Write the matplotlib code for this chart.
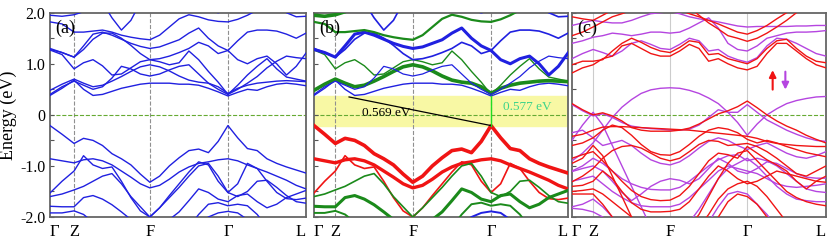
import numpy as np
import matplotlib
matplotlib.use("Agg")
import matplotlib.pyplot as plt

plt.rcParams['font.family'] = ['Liberation Serif', 'DejaVu Serif']

# k-path
K_LABELS = ["Γ", "Z", "F", "Γ", "L"]
KPTS_A = [0.0, 0.094, 0.39, 0.695, 1.0]
KPTS_B = [0.0, 0.084, 0.389, 0.697, 1.0]
KPTS_C = [0.0, 0.083, 0.386, 0.69, 1.0]
SEG_STEPS = [2, 8, 8, 8]

Y_TICKS = [2.0, 1.0, 0.0, -1.0, -2.0]
Y_TICK_LABELS = ["2.0", "1.0", "0", "-1.0", "-2.0"]

# bands (eV) for the non-SOC / projected structure, sampled along the path
a1 = [0.38, 0.52, 0.68, 0.50, 0.38, 0.40, 0.46, 0.52, 0.56, 0.60, 0.62, 0.62, 0.62, 0.60, 0.60, 0.58, 0.52, 0.45, 0.37, 0.44, 0.50, 0.48, 0.55, 0.60, 0.62, 0.60, 0.57]
a2 = [0.48, 0.60, 0.70, 0.62, 0.55, 0.58, 0.66, 0.75, 0.85, 0.94, 0.98, 0.94, 0.86, 0.76, 0.68, 0.64, 0.62, 0.55, 0.42, 0.52, 0.58, 0.62, 0.64, 0.66, 0.67, 0.66, 0.65]
a3 = [1.27, 1.18, 0.90, 1.02, 1.08, 0.96, 0.78, 0.80, 0.92, 1.04, 1.08, 1.04, 0.98, 1.02, 1.25, 1.08, 0.85, 0.64, 0.40, 0.58, 0.78, 0.95, 1.10, 0.90, 0.74, 0.70, 0.66]
a4 = [1.28, 1.22, 1.13, 1.35, 1.58, 1.62, 1.56, 1.48, 1.40, 1.34, 1.30, 1.33, 1.40, 1.47, 1.60, 1.70, 1.50, 1.35, 1.26, 1.08, 1.00, 1.10, 1.15, 1.00, 0.78, 0.95, 1.21]
a5 = [1.30, 1.22, 1.13, 1.28, 1.48, 1.60, 1.60, 1.50, 1.36, 1.20, 1.08, 1.10, 1.15, 1.22, 1.30, 1.42, 1.35, 1.20, 1.26, 1.45, 1.62, 1.66, 1.66, 1.64, 1.58, 1.50, 1.60]
a6 = [1.82, 1.78, 1.62, 1.62, 1.64, 1.66, 1.62, 1.56, 1.52, 1.49, 1.47, 1.56, 1.72, 1.88, 1.96, 1.92, 1.86, 1.83, 1.82, 1.87, 1.95, 2.05, 2.15, 2.20, 2.20, 2.20, 2.20]
a7 = [2.30, 2.30, 2.30, 2.30, 2.30, 2.20, 1.90, 1.66, 1.85, 2.20, 2.30, 2.30, 2.30, 2.30, 2.30, 2.20, 2.05, 2.00, 2.05, 2.20, 2.30, 2.30, 2.30, 2.20, 2.00, 1.92, 1.93]
a8 = [1.95, 1.93, 1.96, 2.02, 2.10, 2.20, 2.30, 2.30, 2.30, 2.30, 2.30, 2.30, 2.30, 2.30, 2.30, 2.30, 2.30, 2.30, 2.30, 2.30, 2.30, 2.30, 2.30, 2.30, 2.30, 2.30, 2.30]
a9 = [0.40, 0.55, 0.66, 0.58, 0.50, 0.55, 0.72, 0.95, 0.90, 0.80, 0.76, 0.80, 0.88, 0.95, 0.98, 0.80, 0.62, 0.50, 0.40, 0.50, 0.62, 0.75, 0.92, 1.05, 1.15, 1.12, 1.10]
v1 = [-0.21, -0.38, -0.56, -0.46, -0.50, -0.60, -0.76, -0.86, -0.98, -1.16, -1.32, -1.20, -1.00, -0.84, -0.70, -0.67, -0.74, -0.52, -0.21, -0.45, -0.66, -0.70, -0.86, -0.95, -1.02, -1.08, -1.14]
v2 = [-0.86, -0.90, -0.94, -0.88, -0.86, -0.90, -0.98, -1.10, -1.22, -1.35, -1.43, -1.38, -1.26, -1.12, -1.02, -0.95, -0.92, -0.88, -0.86, -0.90, -0.98, -1.05, -1.12, -1.20, -1.28, -1.38, -1.45]
v3 = [-1.53, -1.30, -1.10, -0.80, -0.98, -1.05, -1.02, -1.30, -1.62, -1.88, -2.00, -1.82, -1.58, -1.35, -1.12, -0.92, -0.98, -1.30, -1.52, -1.35, -0.95, -1.05, -1.30, -1.52, -1.64, -1.66, -1.63]
v4 = [-1.60, -1.55, -1.47, -1.40, -1.30, -1.20, -1.15, -1.35, -1.60, -1.80, -2.00, -1.82, -1.62, -1.42, -1.20, -1.00, -0.95, -1.20, -1.52, -1.60, -1.50, -1.30, -1.28, -1.42, -1.58, -1.70, -1.73]
v5 = [-1.79, -1.80, -1.80, -1.62, -1.58, -1.65, -1.76, -1.90, -2.05, -2.20, -2.30, -2.20, -2.05, -1.90, -1.68, -1.45, -1.52, -1.65, -1.70, -1.58, -1.55, -1.70, -1.82, -1.75, -1.62, -1.55, -1.48]
v6 = [-1.92, -1.92, -1.88, -1.95, -2.10, -2.30, -2.30, -2.30, -2.30, -2.30, -2.30, -2.30, -2.30, -2.30, -2.20, -1.95, -1.75, -1.72, -1.78, -1.75, -1.78, -1.95, -2.20, -2.30, -2.30, -2.30, -2.30]
v7 = [-2.30, -2.30, -2.30, -2.30, -2.30, -2.30, -2.30, -2.30, -2.30, -2.30, -2.30, -2.30, -2.30, -2.30, -2.30, -2.15, -2.00, -1.92, -1.89, -1.92, -2.05, -2.25, -2.30, -2.30, -2.30, -2.30, -2.30]

# spin-polarised bands for panel (c)
ru1 = [0.22, 0.10, 0.00, 0.04, -0.02, -0.12, -0.25, -0.30, -0.32, -0.32, -0.32, -0.30, -0.26, -0.18, -0.08, 0.02, 0.08, 0.16, 0.27, 0.14, 0.00, -0.12, -0.22, -0.30, -0.40, -0.48, -0.55]
ru2 = [-0.42, -0.38, -0.30, -0.24, -0.23, -0.23, -0.24, -0.25, -0.26, -0.27, -0.28, -0.29, -0.30, -0.32, -0.34, -0.36, -0.38, -0.40, -0.42, -0.46, -0.52, -0.56, -0.58, -0.60, -0.61, -0.62, -0.62]
ru3 = [-0.60, -0.55, -0.45, -0.30, -0.20, -0.25, -0.40, -0.58, -0.72, -0.78, -0.79, -0.72, -0.58, -0.42, -0.30, -0.25, -0.28, -0.35, -0.48, -0.55, -0.50, -0.55, -0.62, -0.68, -0.74, -0.78, -0.82]
ru4 = [-0.85, -0.78, -0.72, -0.90, -1.10, -1.30, -1.48, -1.60, -1.66, -1.68, -1.67, -1.58, -1.40, -1.15, -0.90, -0.75, -0.78, -0.85, -0.62, -0.75, -0.88, -0.98, -1.10, -1.30, -1.45, -1.30, -1.20]
ru5 = [-1.40, -1.38, -1.30, -1.10, -1.25, -1.50, -1.72, -1.85, -1.90, -1.90, -1.89, -1.85, -1.70, -1.45, -1.20, -1.00, -1.10, -1.25, -1.35, -1.30, -1.20, -1.10, -1.15, -1.20, -1.25, -1.30, -1.32]
ru6 = [-1.55, -1.55, -1.55, -1.75, -2.00, -2.30, -2.30, -2.30, -2.30, -2.30, -2.30, -2.30, -2.30, -2.20, -1.95, -1.65, -1.45, -1.35, -1.30, -1.40, -1.60, -1.85, -2.10, -2.30, -2.30, -2.30, -2.30]
ru7 = [-0.95, -0.85, -0.60, -0.80, -1.20, -1.60, -2.00, -2.30, -2.30, -2.30, -2.30, -2.30, -2.30, -2.30, -2.30, -2.00, -1.70, -1.55, -1.60, -1.75, -2.00, -2.30, -2.30, -2.30, -2.30, -2.30, -2.30]
ru8 = [0.82, 0.92, 0.98, 1.10, 1.15, 1.35, 1.40, 1.30, 1.20, 1.15, 1.15, 1.25, 1.38, 1.30, 1.05, 1.10, 1.00, 0.92, 0.88, 0.95, 1.20, 1.40, 1.40, 1.25, 1.10, 0.98, 0.92]
ru9 = [0.98, 1.05, 1.05, 1.08, 1.25, 1.40, 1.50, 1.42, 1.32, 1.25, 1.22, 1.32, 1.45, 1.42, 1.18, 1.20, 1.10, 1.05, 1.00, 1.10, 1.30, 1.45, 1.48, 1.30, 1.15, 1.05, 1.02]
ru10 = [1.55, 1.62, 1.72, 1.82, 1.92, 1.98, 2.05, 2.10, 2.15, 2.15, 2.12, 2.05, 1.98, 1.92, 1.85, 1.78, 1.70, 1.62, 1.58, 1.65, 1.75, 1.88, 2.00, 2.10, 2.15, 2.20, 2.20]
ru11 = [1.92, 1.88, 1.85, 1.95, 2.05, 2.15, 2.20, 2.25, 2.25, 2.25, 2.25, 2.20, 2.10, 1.95, 1.80, 1.68, 1.55, 1.50, 1.44, 1.50, 1.60, 1.72, 1.85, 2.00, 2.15, 2.20, 2.20]
ru12 = [-1.31, -1.20, -1.05, -0.85, -0.70, -0.62, -0.60, -0.65, -0.75, -0.85, -0.90, -0.85, -0.72, -0.58, -0.50, -0.52, -0.60, -0.58, -0.56, -0.62, -0.72, -0.85, -1.00, -1.15, -1.20, -1.10, -1.00]
ru13 = [-1.50, -1.48, -1.45, -1.55, -1.70, -1.85, -2.00, -2.15, -2.25, -2.30, -2.30, -2.30, -2.20, -1.95, -1.60, -1.25, -0.95, -0.75, -0.70, -0.90, -1.10, -1.30, -1.50, -1.62, -1.70, -1.75, -1.78]

pd1 = [-0.90, -0.75, -0.55, -0.30, -0.05, 0.15, 0.30, 0.42, 0.49, 0.52, 0.53, 0.52, 0.48, 0.42, 0.33, 0.22, 0.05, -0.15, -0.40, -0.18, 0.00, 0.12, 0.22, 0.28, 0.32, 0.35, 0.36]
pd2 = [0.20, 0.08, -0.02, 0.02, -0.05, -0.15, -0.22, -0.25, -0.27, -0.28, -0.30, -0.30, -0.28, -0.20, -0.05, 0.10, 0.05, 0.05, 0.20, 0.05, -0.10, -0.20, -0.30, -0.38, -0.45, -0.50, -0.52]
pd3 = [-0.35, -0.30, -0.45, -0.60, -0.55, -0.50, -0.60, -0.75, -0.88, -0.95, -0.98, -0.92, -0.80, -0.65, -0.52, -0.45, -0.50, -0.60, -0.68, -0.60, -0.55, -0.65, -0.75, -0.82, -0.85, -0.80, -0.72]
pd4 = [-1.10, -1.00, -0.85, -0.95, -1.10, -1.25, -1.35, -1.42, -1.46, -1.47, -1.47, -1.42, -1.30, -1.15, -1.00, -0.88, -0.80, -0.78, -0.90, -0.85, -0.90, -1.00, -1.15, -1.30, -1.45, -1.50, -1.52]
pd5 = [-1.30, -1.25, -1.20, -1.35, -1.50, -1.62, -1.72, -1.78, -1.80, -1.80, -1.80, -1.75, -1.62, -1.45, -1.28, -1.10, -1.00, -1.05, -1.10, -1.15, -1.25, -1.35, -1.40, -1.42, -1.40, -1.38, -1.35]
pd6 = [-1.80, -1.75, -1.65, -1.80, -2.00, -2.20, -2.30, -2.30, -2.30, -2.30, -2.30, -2.30, -2.30, -2.30, -2.10, -1.80, -1.55, -1.50, -1.55, -1.75, -1.95, -2.20, -2.30, -2.30, -2.30, -2.30, -2.30]
pd7 = [-0.50, -0.20, 0.05, -0.20, -0.60, -1.00, -1.40, -1.80, -2.20, -2.30, -2.30, -2.30, -2.30, -2.30, -2.30, -2.30, -2.30, -2.30, -2.30, -2.30, -2.30, -2.30, -2.30, -2.30, -2.30, -2.30, -2.30]
pd8 = [1.10, 1.20, 1.28, 1.22, 1.15, 1.25, 1.40, 1.45, 1.38, 1.30, 1.28, 1.38, 1.50, 1.45, 1.25, 1.28, 1.15, 1.08, 1.03, 1.12, 1.35, 1.50, 1.48, 1.40, 1.30, 1.20, 1.15]
pd9 = [1.40, 1.45, 1.52, 1.55, 1.60, 1.58, 1.55, 1.58, 1.62, 1.62, 1.60, 1.62, 1.70, 1.80, 1.90, 1.70, 1.40, 1.28, 1.25, 1.35, 1.50, 1.55, 1.60, 1.62, 1.62, 1.63, 1.65]
pd10 = [1.75, 1.80, 1.85, 1.82, 1.80, 1.80, 1.85, 1.92, 1.98, 2.00, 2.02, 1.98, 1.92, 1.88, 1.85, 1.82, 1.78, 1.74, 1.72, 1.73, 1.73, 1.73, 1.73, 1.74, 1.74, 1.75, 1.75]
pd11 = [-1.11, -1.05, -1.00, -1.10, -1.30, -1.52, -1.68, -1.55, -1.40, -1.30, -1.25, -1.28, -1.35, -1.25, -1.05, -0.85, -0.95, -1.10, -1.15, -1.05, -0.92, -0.95, -1.05, -1.15, -1.22, -1.24, -1.24]
pd12 = [-1.83, -1.85, -1.90, -2.00, -2.10, -2.20, -2.25, -2.30, -2.30, -2.30, -2.30, -2.25, -2.10, -1.85, -1.55, -1.25, -1.05, -0.95, -0.85, -1.00, -1.20, -1.40, -1.55, -1.65, -1.68, -1.70, -1.70]

# gap annotation in (b)
VBM = -0.21
CBM = 0.37
INDIRECT_START = (0.138, 0.35)
GAP_INDIRECT = "0.569 eV"
GAP_DIRECT = "0.577 eV"

BLUE = '#2020e0'
GREEN = '#1b8a1b'
RED = '#f01414'
PURPLE = '#b545e0'
ZERO_C = '#66aa33'


def kgrid(kp):
    parts = [np.linspace(kp[i], kp[i + 1], SEG_STEPS[i] + 1)[:-1] for i in range(4)]
    parts.append([kp[-1]])
    return np.concatenate(parts)


def setup(ax, kp, vstyle, label, show_y):
    ax.set_xlim(0, 1)
    ax.set_ylim(-2.0, 2.0)
    for k in kp[1:-1]:
        ax.axvline(k, **vstyle)
    ax.axhline(0, color=ZERO_C, ls='--', lw=0.8, zorder=1)
    ax.set_xticks(kp)
    ax.set_xticklabels(K_LABELS, fontsize=12)
    tl = ax.get_xticklabels()
    tl[0].set_ha('left')
    tl[-1].set_ha('right')
    ax.tick_params(axis='x', length=0, pad=5)
    ax.set_yticks(Y_TICKS)
    ax.set_yticks([1.5, 0.5, -0.5, -1.5], minor=True)
    ax.tick_params(axis='y', which='both', direction='in', length=3, width=0.8, color='#555555')
    if show_y:
        ax.set_yticklabels(Y_TICK_LABELS, fontsize=11.5)
        ax.set_ylabel("Energy (eV)", fontsize=13, labelpad=2)
    else:
        ax.set_yticklabels([])
    for s in ax.spines.values():
        s.set_color('#666666')
        s.set_linewidth(1.3)
    ax.text(0.022, 0.965, label, transform=ax.transAxes, fontsize=13, va='top', ha='left', zorder=10)


fig = plt.figure(figsize=(8.3, 2.41), dpi=100)
H = 0.8477
B = 0.0996
ax_a = fig.add_axes([50 / 830, B, 256 / 830, H])
ax_b = fig.add_axes([314 / 830, B, 254 / 830, H])
ax_c = fig.add_axes([572 / 830, B, 254 / 830, H])

dashed = dict(color='#909090', ls='--', lw=0.8, zorder=1)

# (a)
ka = kgrid(KPTS_A)
setup(ax_a, KPTS_A, dashed, "(a)", True)
for band in [a1, a2, a3, a4, a5, a6, a7, a8, a9, v1, v2, v3, v4, v5, v6, v7]:
    ax_a.plot(ka, band, color=BLUE, lw=1.0, zorder=3)

# (b)
kb = kgrid(KPTS_B)
ax_b.axhspan(VBM, CBM, color='#f8f8a4', zorder=0)
setup(ax_b, KPTS_B, dashed, "(b)", False)
b_styles = [
    (a1, BLUE, 1.0), (a2, GREEN, 2.6), (a3, GREEN, 1.0), (a4, BLUE, 2.2),
    (a5, BLUE, 1.2), (a6, GREEN, 1.6), (a7, BLUE, 1.2), (a8, GREEN, 2.6),
    (a9, BLUE, 0.9),
    (v1, RED, 2.6), (v2, RED, 2.4), (v3, RED, 1.2), (v4, GREEN, 1.2),
    (v5, GREEN, 2.2), (v6, GREEN, 1.4), (v7, BLUE, 1.4),
]
for band, c, w in b_styles:
    ax_b.plot(kb, band, color=c, lw=w, zorder=3)
ax_b.plot([INDIRECT_START[0], KPTS_B[3]], [INDIRECT_START[1], VBM], color='black', lw=0.9, zorder=4)
ax_b.plot([KPTS_B[3], KPTS_B[3]], [VBM, CBM], color='#22dd22', lw=1.0, zorder=4)
ax_b.text(0.19, 0.03, GAP_INDIRECT, fontsize=9.5, va='center', ha='left', zorder=5)
ax_b.text(0.745, 0.16, GAP_DIRECT, fontsize=9.5, va='center', ha='left', color='#3cd48a', zorder=5)

# (c)
kc = kgrid(KPTS_C)
setup(ax_c, KPTS_C, dict(color='#cccccc', ls='-', lw=0.8, zorder=1), "(c)", False)
for band in [pd1, pd2, pd3, pd4, pd5, pd6, pd7, pd8, pd9, pd10, pd11, pd12]:
    ax_c.plot(kc, band, color=PURPLE, lw=1.0, zorder=3)
for band in [ru1, ru2, ru3, ru4, ru5, ru6, ru7, ru8, ru9, ru10, ru11, ru12, ru13]:
    ax_c.plot(kc, band, color=RED, lw=1.0, zorder=4)
ax_c.annotate('', xy=(0.79, 0.93), xytext=(0.79, 0.44),
              arrowprops=dict(arrowstyle='-|>', color=RED, lw=1.5, mutation_scale=10))
ax_c.annotate('', xy=(0.84, 0.44), xytext=(0.84, 0.90),
              arrowprops=dict(arrowstyle='-|>', color=PURPLE, lw=1.5, mutation_scale=10))

fig.savefig("out.png", dpi=100)
